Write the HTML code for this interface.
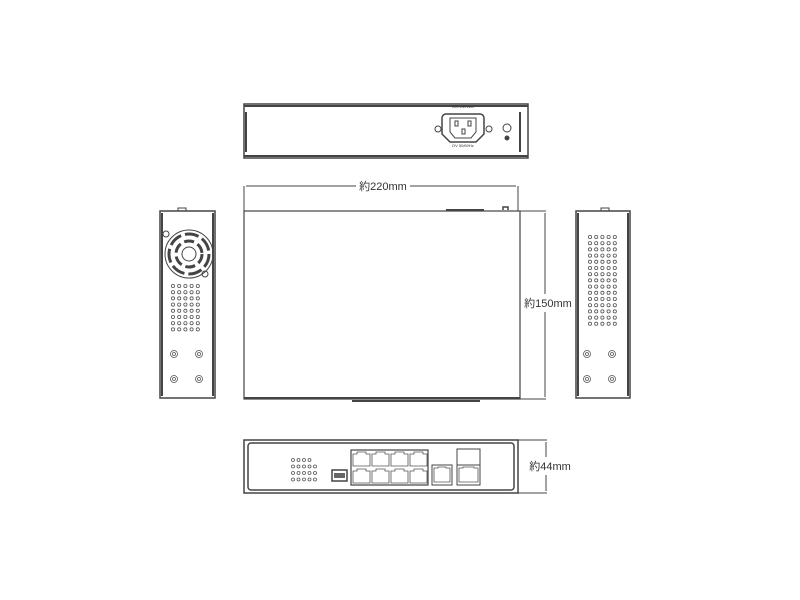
<!DOCTYPE html>
<html><head><meta charset="utf-8"><style>
html,body{margin:0;padding:0;background:#fff;width:800px;height:600px;overflow:hidden}
text{font-family:"Liberation Sans","Noto Sans CJK JP",sans-serif;fill:#333}
</style></head><body>
<svg id="s" width="800" height="600" viewBox="0 0 800 600" xmlns="http://www.w3.org/2000/svg">
<g fill="none" stroke="#444" stroke-width="1">
<rect x="244" y="104" width="284" height="54" stroke-width="1.5"/>
<line x1="244" y1="106" x2="528" y2="106" stroke-width="2"/>
<line x1="244" y1="156" x2="528" y2="156" stroke-width="2"/>
<line x1="246" y1="112" x2="246" y2="152" stroke-width="2"/>
<line x1="520" y1="112" x2="520" y2="152" stroke-width="2"/>
<path d="M446 114 h34 a4 4 0 0 1 4 4 v16 l-8 8 h-26 l-8 -8 v-16 a4 4 0 0 1 4 -4z" stroke-width="1.5"/>
<path d="M450 118 h26 v14 l-5 6 h-16 l-5 -6z"/>
<rect x="455" y="121" width="3" height="5"/><rect x="468" y="121" width="3" height="5"/><rect x="462" y="129" width="3" height="5"/>
<circle cx="438" cy="129" r="3"/><circle cx="489" cy="129" r="3"/>
<circle cx="507" cy="128" r="4"/><circle cx="507" cy="138" r="2" fill="#444"/>
<rect x="244" y="211" width="276" height="188" stroke-width="1.2"/>
<line x1="244" y1="398" x2="520" y2="398" stroke-width="2"/>
<line x1="446" y1="210" x2="484" y2="210" stroke-width="2"/>
<path d="M503 210 v-3 h5 v3" stroke-width="1.5"/>
<line x1="352" y1="401" x2="480" y2="401" stroke-width="2"/>
<line x1="244" y1="186" x2="244" y2="211"/><line x1="518" y1="186" x2="518" y2="211"/>
<line x1="246" y1="186" x2="356" y2="186"/><line x1="410" y1="186" x2="516" y2="186"/>
<line x1="520" y1="211" x2="546" y2="211"/><line x1="520" y1="399" x2="546" y2="399"/>
<line x1="545" y1="213" x2="545" y2="294"/><line x1="545" y1="312" x2="545" y2="397"/>
<line x1="518" y1="440" x2="547" y2="440"/><line x1="518" y1="493" x2="547" y2="493"/>
<line x1="546" y1="442" x2="546" y2="457"/><line x1="546" y1="475" x2="546" y2="491"/>
<rect x="160" y="211" width="55" height="187" stroke-width="1.5"/>
<line x1="162" y1="213" x2="162" y2="396" stroke-width="2"/>
<line x1="213" y1="213" x2="213" y2="396" stroke-width="2"/>
<path d="M178 211 v-3 h8 v3"/>
<circle cx="189" cy="254" r="24"/>
<circle cx="189" cy="254" r="20" stroke-width="3" stroke-dasharray="14 4"/>
<circle cx="189" cy="254" r="13" stroke-width="3" stroke-dasharray="10 4"/>
<circle cx="189" cy="254" r="7"/>
<circle cx="166" cy="234" r="3"/><circle cx="205" cy="274" r="3"/>
<rect x="576" y="211" width="54" height="187" stroke-width="1.5"/>
<line x1="578" y1="213" x2="578" y2="396" stroke-width="2"/>
<line x1="628" y1="213" x2="628" y2="396" stroke-width="2"/>
<path d="M601 211 v-3 h8 v3"/>
<rect x="244" y="440" width="274" height="53" stroke-width="1.5"/>
<rect x="248" y="443" width="266" height="47" rx="3" stroke-width="1.5"/>
<rect x="351" y="450" width="77" height="35" stroke-width="1.2"/>
<rect x="332" y="470" width="15" height="11" stroke-width="1.5"/>
<rect x="334" y="473" width="11" height="5" fill="#666" stroke="none"/>
<rect x="432" y="465" width="20" height="20"/>
<rect x="457" y="449" width="23" height="36"/>
<rect x="457" y="465" width="23" height="20"/>
</g>
<g id="dots" fill="none" stroke="#555" stroke-width="0.8"></g>
<text x="383" y="190" font-size="11" text-anchor="middle">約220mm</text>
<text x="548" y="307" font-size="11" text-anchor="middle">約150mm</text>
<text x="550" y="470" font-size="11" text-anchor="middle">約44mm</text>
<text x="463" y="108" font-size="4" text-anchor="middle">100-240VAC</text>
<text x="463" y="147" font-size="4" text-anchor="middle">DV 50/60Hz</text>
</svg>
<script>
var g=document.getElementById('dots'),ns='http://www.w3.org/2000/svg';
function c(x,y,r){var e=document.createElementNS(ns,'circle');e.setAttribute('cx',x);e.setAttribute('cy',y);e.setAttribute('r',r);g.appendChild(e);}
function p(d){var e=document.createElementNS(ns,'path');e.setAttribute('d',d);g.appendChild(e);}
for(var r=0;r<8;r++)for(var k=0;k<5;k++)c(173+k*6.2,286+r*6.2,1.6);
for(var r=0;r<15;r++)for(var k=0;k<5;k++)c(590+k*6.2,237+r*6.2,1.6);
[[174,354],[199,354],[174,379],[199,379],[587,354],[612,354],[587,379],[612,379]].forEach(function(a){c(a[0],a[1],3.5);c(a[0],a[1],1.5);});
for(var k=0;k<4;k++)c(293+k*5.5,460,1.5);
for(var r=1;r<4;r++)for(var k=0;k<5;k++)c(293+k*5.5,460+r*6.5,1.5);
for(var r=0;r<2;r++)for(var k=0;k<4;k++){var x=353+k*19,y=452+r*17;p('M'+x+' '+(y+2)+'h4v-2h9v2h4v12h-17z');}
p('M434 468h4v-1h8v1h4v14h-16z');p('M459 468h4v-1h11v1h4v14h-19z');
</script>
</body></html>
